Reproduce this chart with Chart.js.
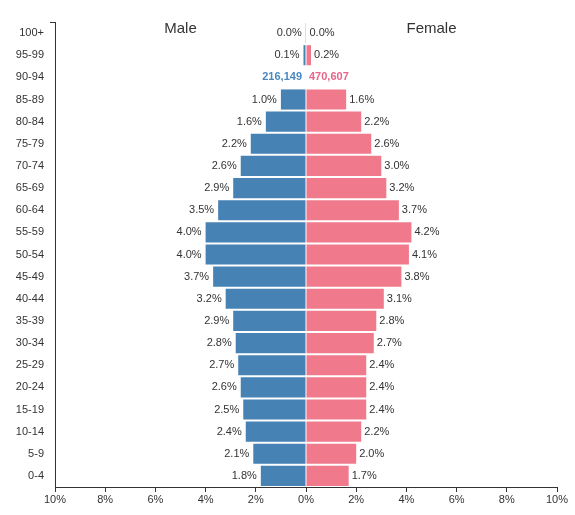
<!DOCTYPE html>
<html>
<head>
<meta charset="utf-8">
<script src="https://cdn.jsdelivr.net/npm/chart.js@4"></script>
<style>
  html, body { margin: 0; padding: 0; background: #fff; }
  #wrap { width: 575px; height: 515px; }
</style>
</head>
<body>
<div id="wrap"><canvas id="myChart"></canvas></div>
<script>
let ageGroups = ['100+', '95-99', '90-94', '85-89', '80-84', '75-79', '70-74', '65-69', '60-64', '55-59',
    '50-54', '45-49', '40-44', '35-39', '30-34', '25-29', '20-24', '15-19', '10-14', '5-9', '0-4'];
let malePct = [0.01, 0.1, 0.4, 1.0, 1.6, 2.2, 2.6, 2.9, 3.5, 4.0, 4.0, 3.7, 3.2, 2.9, 2.8, 2.7, 2.6, 2.5, 2.4, 2.1, 1.8];
let femalePct = [0.02, 0.2, 0.9, 1.6, 2.2, 2.6, 3.0, 3.2, 3.7, 4.2, 4.1, 3.8, 3.1, 2.8, 2.7, 2.4, 2.4, 2.4, 2.2, 2.0, 1.7];
let xTicks = [-10, -8, -6, -4, -2, 0, 2, 4, 6, 8, 10];

// hovered row: bars hidden, absolute counts shown instead
let highlightGroup = '90-94';
let highlightMale = 216149;
let highlightFemale = 470607;

let maleColor = 'rgb(70, 130, 180)';
let femaleColor = 'rgb(240, 122, 140)';
let hi = ageGroups.indexOf(highlightGroup);

let fontFamily = '"Liberation Sans", Arial, sans-serif';

let barLabels = {
    id: 'barLabels',
    afterDatasetsDraw(chart) {
        let c = chart.ctx;
        let base = chart.scales.x.getPixelForValue(0);
        c.save();
        c.textBaseline = 'middle';
        chart.data.datasets.forEach((ds, di) => {
            let meta = chart.getDatasetMeta(di);
            meta.data.forEach((bar, i) => {
                let isMale = di === 0;
                let txt, col = '#333', end = bar.x;
                c.font = '11px ' + fontFamily;
                if (i === hi) {
                    txt = (isMale ? highlightMale : highlightFemale).toLocaleString('en-US');
                    col = isMale ? '#4a88c2' : '#e8648a';
                    end = base;
                    c.font = 'bold 11px ' + fontFamily;
                } else {
                    txt = (isMale ? malePct[i] : femalePct[i]).toFixed(1) + '%';
                }
                c.fillStyle = col;
                if (isMale) {
                    c.textAlign = 'right';
                    c.fillText(txt, Math.min(end, base) - 4, bar.y);
                } else {
                    c.textAlign = 'left';
                    c.fillText(txt, Math.max(end, base) + 3, bar.y);
                }
            });
        });
        // side titles
        let x = chart.scales.x;
        c.fillStyle = '#333';
        c.textAlign = 'center';
        c.font = '15px ' + fontFamily;
        c.fillText('Male', x.getPixelForValue(-5), chart.chartArea.top + 7);
        c.fillText('Female', x.getPixelForValue(5), chart.chartArea.top + 7);
        // small cap at top of the y axis
        c.strokeStyle = '#333';
        c.lineWidth = 1;
        c.beginPath();
        c.moveTo(chart.chartArea.left - 5, chart.chartArea.top + 0.5);
        c.lineTo(chart.chartArea.left, chart.chartArea.top + 0.5);
        c.stroke();
        c.restore();
    }
};

let ctx = document.getElementById('myChart').getContext('2d');
let myChart = new Chart(ctx, {
    type: 'bar',
    data: {
        labels: ageGroups,
        datasets: [{
                label: 'Male',
                data: malePct.map(v => -v),
                backgroundColor: ageGroups.map((g, i) => i === hi ? 'rgba(0,0,0,0)' : maleColor),
                borderWidth: 0
            },
            {
                label: 'Female',
                data: femalePct,
                backgroundColor: ageGroups.map((g, i) => i === hi ? 'rgba(0,0,0,0)' : femaleColor),
                borderWidth: 0
            }
        ]
    },
    options: {
        indexAxis: 'y',
        responsive: true,
        maintainAspectRatio: false,
        animation: false,
        barPercentage: 1,
        categoryPercentage: 0.91,
        layout: { padding: { left: 0, right: 18, top: 22, bottom: 0 } },
        plugins: {
            legend: { display: false },
            tooltip: { enabled: false }
        },
        scales: {
            x: {
                stacked: true,
                min: -10,
                max: 10,
                afterBuildTicks: s => { s.ticks = xTicks.map(v => ({ value: v })); },
                afterFit: s => { s.height = 28; },
                ticks: {
                    color: '#333',
                    font: { size: 11, family: fontFamily },
                    padding: 1,
                    callback: v => Math.abs(v) + '%'
                },
                grid: { drawOnChartArea: false, drawTicks: true, tickLength: 5, color: '#333' },
                border: { display: true, color: '#333', width: 1 }
            },
            y: {
                stacked: true,
                afterFit: s => { s.width = 55; },
                ticks: {
                    color: '#333',
                    font: { size: 11, family: fontFamily },
                    padding: 3
                },
                grid: { display: false },
                border: { display: true, color: '#333', width: 1 }
            }
        }
    },
    plugins: [barLabels]
});
</script>
</body>
</html>
